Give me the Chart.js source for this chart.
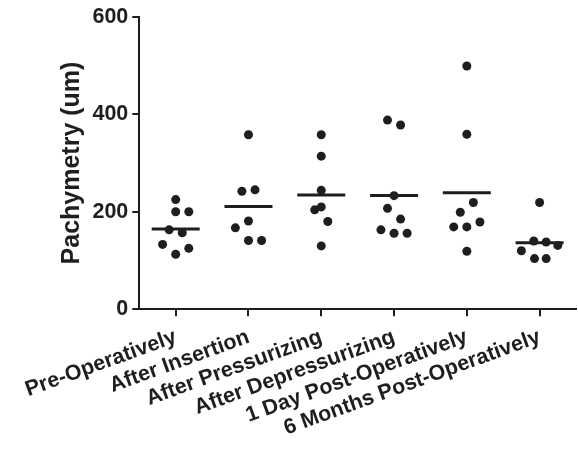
<!DOCTYPE html>
<html><head><meta charset="utf-8">
<script src="https://cdn.jsdelivr.net/npm/chart.js@4"></script>
<style>html,body{margin:0;padding:0;background:#fff;} #wrap{width:578px;height:455px;}</style>
</head><body><div id="wrap"><canvas id="c" width="578" height="455"></canvas></div>
<script>
const categories = ['Pre-Operatively','After Insertion','After Pressurizing','After Depressurizing','1 Day Post-Operatively','6 Months Post-Operatively'];
// values (um)
const preOperatively      = [225, 200, 200, 163, 157, 133, 125, 113];
const afterInsertion      = [358, 242, 245, 167, 181, 141, 141];
const afterPressurizing   = [358, 314, 244, 210, 204, 180, 130];
const afterDepressurizing = [388, 378, 233, 207, 185, 163, 156, 156];
const oneDayPostOp        = [499, 359, 219, 199, 179, 169, 169, 119];
const sixMonthsPostOp     = [219, 140, 138, 131, 120, 104, 104];
// horizontal scatter offsets of each point within its column (category units)
const jitterPre   = [0, 0, 0.18, -0.09, 0.09, -0.18, 0.18, 0];
const jitterIns   = [0, -0.09, 0.09, -0.18, 0, 0, 0.18];
const jitterPress = [0, 0, 0, 0, -0.09, 0.09, 0];
const jitterDep   = [-0.09, 0.09, 0, -0.09, 0.09, -0.18, 0, 0.18];
const jitterDay   = [0, 0, 0.09, -0.09, 0.18, -0.18, 0, 0];
const jitterSix   = [0, -0.08, 0.09, 0.25, -0.25, -0.07, 0.09];
const yTicks = [0, 200, 400, 600];

const groups = [preOperatively, afterInsertion, afterPressurizing, afterDepressurizing, oneDayPostOp, sixMonthsPostOp];
const jitters = [jitterPre, jitterIns, jitterPress, jitterDep, jitterDay, jitterSix];

const points = [];
groups.forEach((g, i) => g.forEach((v, j) => points.push({x: i + jitters[i][j], y: v})));
const means = groups.map((g, i) => ({x: i, y: g.reduce((a, b) => a + b, 0) / g.length}));

const ink = '#1e1e1e';
const fam = '"Liberation Sans", Arial, Helvetica, sans-serif';

new Chart(document.getElementById('c'), {
  type: 'scatter',
  data: {
    datasets: [
      { data: points, pointRadius: 4.5, pointBackgroundColor: ink, pointBorderWidth: 0, pointBorderColor: ink, showLine: false },
      { data: means, pointStyle: 'line', pointRadius: 24, pointBorderWidth: 3, pointBorderColor: ink, pointBackgroundColor: ink, showLine: false }
    ]
  },
  options: {
    responsive: false,
    devicePixelRatio: 1,
    animation: false,
    events: [],
    layout: { autoPadding: false, padding: { left: 53, top: 16.7, right: 2, bottom: 0 } },
    plugins: { legend: { display: false }, tooltip: { enabled: false } },
    scales: {
      x: {
        type: 'linear', min: -0.5, max: 5.5,
        afterBuildTicks: s => { s.ticks = categories.map((c, i) => ({ value: i })); },
        afterFit: s => { s.height = 145.7; s.paddingLeft = 0; s.paddingRight = 0; },
        ticks: {
          autoSkip: false, minRotation: 20, maxRotation: 20, padding: 8,
          color: ink, font: { family: fam, size: 21.5, weight: 'bold' },
          callback: v => categories[v]
        },
        grid: { drawOnChartArea: false, drawTicks: true, tickLength: 7, color: ink, lineWidth: 2 },
        border: { display: true, color: ink, width: 2 }
      },
      y: {
        min: 0, max: 600,
        afterBuildTicks: s => { s.ticks = yTicks.map(v => ({ value: v })); },
        afterFit: s => { s.width = 86.3; s.paddingTop = 0; s.paddingBottom = 0; },
        ticks: { padding: 4, color: ink, font: { family: fam, size: 21.5, weight: 'bold' } },
        grid: { drawOnChartArea: false, drawTicks: true, tickLength: 7, color: ink, lineWidth: 2 },
        border: { display: true, color: ink, width: 2 },
        title: { display: true, text: 'Pachymetry (um)', color: ink, font: { family: fam, size: 25, weight: 'bold' }, padding: { top: 4, bottom: 4 } }
      }
    }
  }
});
</script></body></html>
